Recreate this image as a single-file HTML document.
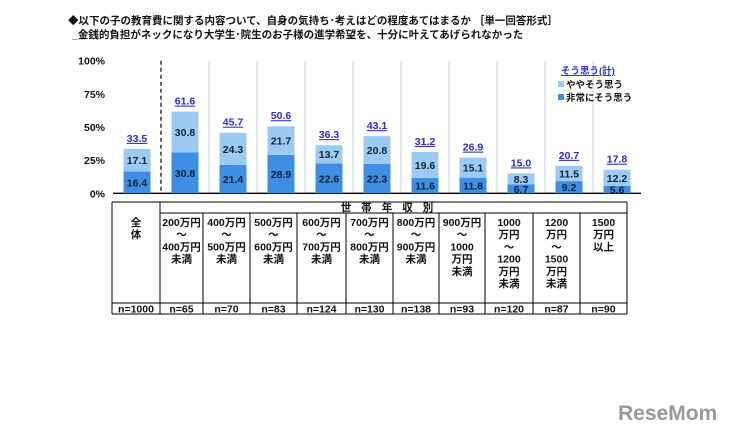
<!DOCTYPE html>
<html><head><meta charset="utf-8"><style>
body{margin:0;background:#fff;width:729px;height:440px;overflow:hidden}
svg{display:block;font-family:"Liberation Sans","Noto Sans CJK JP",sans-serif}
</style></head><body>
<svg id="c" width="729" height="440" viewBox="0 0 729 440">
<text x="68" y="24" font-size="10.5" font-weight="bold" fill="#111">◆以下の子の教育費に関する内容ついて、自身の気持ち･考えはどの程度あてはまるか ［単一回答形式］</text>
<text x="72" y="38" font-size="10.5" font-weight="bold" fill="#111">_金銭的負担がネックになり大学生･院生のお子様の進学希望を、十分に叶えてあげられなかった</text>
<g id="grid"></g><g id="bars"></g>
<g>
<text x="561" y="74" font-size="9.5" font-weight="bold" fill="#2a2acc" text-decoration="underline">そう思う(計)</text>
<rect x="558" y="81" width="6" height="6" fill="#9ccbf2"/>
<text x="566" y="88" font-size="9.5" font-weight="bold" fill="#111">ややそう思う</text>
<rect x="558" y="94" width="6" height="6" fill="#3c8fe4"/>
<text x="566" y="101" font-size="9.5" font-weight="bold" fill="#111">非常にそう思う</text>
</g>
<g id="table" font-size="10.5" font-weight="bold" fill="#111"></g>
<text x="618" y="420" font-size="21" font-weight="bold" fill="#999">ReseMom</text>
</svg>
<script>
const categories=["全体","200-400","400-500","500-600","600-700","700-800","800-900","900-1000","1000-1200","1200-1500","1500+"];
const strongly=[16.4,30.8,21.4,28.9,22.6,22.3,11.6,11.8,6.7,9.2,5.6];
const somewhat=[17.1,30.8,24.3,21.7,13.7,20.8,19.6,15.1,8.3,11.5,12.2];
const totals=[33.5,61.6,45.7,50.6,36.3,43.1,31.2,26.9,15.0,20.7,17.8];
const yTicks=[0,25,50,75,100];
const headLabels=[["全","体"],["200万円","～","400万円","未満"],["400万円","～","500万円","未満"],["500万円","～","600万円","未満"],["600万円","～","700万円","未満"],["700万円","～","800万円","未満"],["800万円","～","900万円","未満"],["900万円","～","1000","万円","未満"],["1000","万円","～","1200","万円","未満"],["1200","万円","～","1500","万円","未満"],["1500","万円","以上"]];
const nLabels=["n=1000","n=65","n=70","n=83","n=124","n=130","n=138","n=93","n=120","n=87","n=90"];
const NS="http://www.w3.org/2000/svg";
const X0=113,CW=48,Y0=193.3,Y1=60.7,BW=27;
const y=v=>Y0-(v/100)*(Y0-Y1);
const xc=i=>X0+CW*i+CW/2;
function mk(p,t,a){const e=document.createElementNS(NS,t);for(const k in a)e.setAttribute(k,a[k]);p.appendChild(e);return e;}
const g=document.getElementById('grid'),b=document.getElementById('bars'),tb=document.getElementById('table');
yTicks.forEach(t=>{const e=mk(g,'text',{x:105,y:y(t)+4,'font-size':10.5,'font-weight':'bold','text-anchor':'end',fill:'#111'});e.textContent=t+'%';

});
for(let i=1;i<categories.length;i++){const l=mk(g,'line',{x1:X0+CW*i,x2:X0+CW*i,y1:Y1,y2:Y0,stroke:i==1?'#000':'#ccc','stroke-width':i==1?1.2:1,'stroke-dasharray':i==1?'4,3':''});

}
const ax=mk(g,'line',{x1:X0,x2:X0+CW*11,y1:Y0,y2:Y0,stroke:'#000','stroke-width':1.3});


categories.forEach((c,i)=>{
 const x=xc(i)-BW/2;
 const r1=mk(b,'rect',{x:x,y:y(strongly[i]),width:BW,height:Y0-y(strongly[i]),fill:'#3c8fe4'});
 
 
 const r2=mk(b,'rect',{x:x,y:y(strongly[i]+somewhat[i]),width:BW,height:y(strongly[i])-y(strongly[i]+somewhat[i]),fill:'#9ccbf2'});
 
 
 const t1=mk(b,'text',{x:xc(i),y:(y(strongly[i])+Y0)/2+4,'font-size':10.5,'font-weight':'bold','text-anchor':'middle',fill:'#123'});t1.textContent=strongly[i].toFixed(1);
 
 
 const t2=mk(b,'text',{x:xc(i),y:(y(strongly[i])+y(strongly[i]+somewhat[i]))/2+4,'font-size':10.5,'font-weight':'bold','text-anchor':'middle',fill:'#123'});t2.textContent=somewhat[i].toFixed(1);
 
 
 const t3=mk(b,'text',{x:xc(i),y:y(totals[i])-7,'font-size':10.5,'font-weight':'bold','text-anchor':'middle',fill:'#2a2acc','text-decoration':'underline'});t3.textContent=totals[i].toFixed(1);
 
 
});
const TX=[112,160,203,250,297,346,393,439,485,533,580,627];
const TY0=202,TY1=213,TY2=303,TY3=314;
const ln=(x1,y1,x2,y2)=>{const l=mk(tb,'line',{x1,y1,x2,y2,stroke:'#000','stroke-width':1});};
ln(TX[0],TY0,TX[11],TY0);ln(TX[1],TY1,TX[11],TY1);ln(TX[0],TY2,TX[11],TY2);ln(TX[0],TY3,TX[11],TY3);
ln(TX[0],TY0,TX[0],TY3);ln(TX[1],TY0,TX[1],TY3);ln(TX[11],TY0,TX[11],TY3);
for(let i=2;i<11;i++)ln(TX[i],TY1,TX[i],TY3);
const hh=mk(tb,'text',{x:392,y:211,'text-anchor':'middle','letter-spacing':'10'});hh.textContent='世帯年収別';


headLabels.forEach((ls,i)=>{const cx=(TX[i]+TX[i+1])/2;ls.forEach((s,j)=>{const t=mk(tb,'text',{x:cx,y:226+j*12.2,'text-anchor':'middle'});t.textContent=s;

});
const n=mk(tb,'text',{x:cx,y:312.5,'text-anchor':'middle'});n.textContent=nLabels[i];

});
</script>
</body></html>
